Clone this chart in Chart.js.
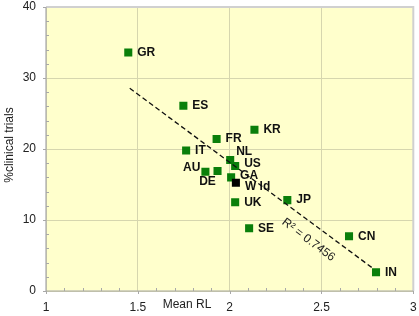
<!DOCTYPE html>
<html><head><meta charset="utf-8">
<script src="https://cdn.jsdelivr.net/npm/chart.js@4/dist/chart.umd.min.js"></script>
<style>html,body{margin:0;padding:0;background:#fff}#w{width:419px;height:316px}</style>
</head><body><div id="w"><canvas id="c"></canvas></div>
<script>
const countries = ['GR','ES','IT','FR','KR','NL','US','AU','DE','GA','Wld','UK','JP','SE','CN','IN'];
const meanRL    = [1.448,1.748,1.763,1.929,2.135,2.003,2.030,1.868,1.934,2.008,2.034,2.030,2.314,2.106,2.650,2.797];
const clinical  = [33.6,26.1,19.8,21.4,22.7,18.45,17.6,16.8,16.9,16.0,15.25,12.5,12.8,8.83,7.7,2.63];
const trendX = [1.456, 2.78];
const trendY = [28.55, 3.2];
const xTicks = [1,1.5,2,2.5,3];
const yTicks = [0,10,20,30,40];
const r2Text = 'R\u00B2 = 0.7456';

// label offsets (px) & alignment per country
const labelPos = {
  AU:[-5,-4,'right'], DE:[-10,11,'center'], NL:[6,-8,'left'], US:[9,-2,'left'], GA:[9,-2,'left'], Wld:[9,4,'left']
};

const bgPlugin = {
  id:'bg',
  beforeDraw(ch){
    const {ctx, chartArea:a} = ch;
    ctx.save(); ctx.fillStyle='#ffffcc'; ctx.fillRect(a.left,a.top,a.right-a.left,a.bottom-a.top); ctx.restore();
  },
  afterDatasetsDraw(ch){
    const {ctx, chartArea:a, scales:{x,y}} = ch;
    ctx.save();
    ctx.strokeStyle='#d0d0d0'; ctx.lineWidth=2;
    ctx.beginPath(); ctx.moveTo(a.left,a.top); ctx.lineTo(a.right,a.top); ctx.lineTo(a.right,a.bottom); ctx.stroke();
    ctx.strokeStyle='#a8a8a8'; ctx.lineWidth=1.2;
    ctx.beginPath(); ctx.moveTo(a.left,a.top); ctx.lineTo(a.left,a.bottom); ctx.lineTo(a.right,a.bottom); ctx.stroke();
    ctx.strokeStyle='#a8a8a8'; ctx.lineWidth=1;
    for(let v=0; v<=40; v+=2){ const py=Math.round(y.getPixelForValue(v))+0.5; ctx.beginPath(); if(v%10===0){ctx.moveTo(a.left-3,py);ctx.lineTo(a.left,py);} else {ctx.moveTo(a.left,py);ctx.lineTo(a.left+3,py);} ctx.stroke(); }
    for(let i=10; i<=30; i++){ const v=i/10; const px=Math.round(x.getPixelForValue(v))+0.5; ctx.beginPath(); if(i%5===0){ctx.moveTo(px,a.bottom);ctx.lineTo(px,a.bottom+3);} else {ctx.moveTo(px,a.bottom);ctx.lineTo(px,a.bottom-3);} ctx.stroke(); }
    ctx.fillStyle='#111'; ctx.font='bold 12px "Liberation Sans", Arial, sans-serif'; ctx.textBaseline='middle';
    const meta = ch.getDatasetMeta(1);
    countries.forEach((c,i)=>{
      const p = meta.data[i]; const o = labelPos[c] || [9,0,'left'];
      ctx.textAlign=o[2];
      ctx.fillText(c==='Wld'?'W ld':c, p.x+o[0], p.y+o[1]);
    });
    const cx = x.getPixelForValue(2.429), cy = y.getPixelForValue(7.2);
    ctx.translate(cx,cy); ctx.rotate(37*Math.PI/180);
    ctx.font='12px "Liberation Sans", Arial, sans-serif'; ctx.textAlign='center'; ctx.fillStyle='#222';
    ctx.fillText(r2Text,0,0);
    ctx.restore();
    ctx.save();
    ctx.font='12px "Liberation Sans", Arial, sans-serif'; ctx.fillStyle='#222'; ctx.textAlign='center'; ctx.textBaseline='middle';
    ctx.fillText('Mean RL', 187, 305);
    ctx.translate(10,(a.top+a.bottom)/2-4); ctx.rotate(-Math.PI/2); ctx.fillText('%clinical trials',0,0);
    ctx.restore();
  }
};

new Chart(document.getElementById('c'), {
  type:'scatter',
  data:{ datasets:[
    { type:'line', data: trendX.map((v,i)=>({x:v,y:trendY[i]})), borderColor:'#111', borderWidth:1.3, borderDash:[5,3], pointRadius:0, fill:false },
    { data: meanRL.map((v,i)=>({x:v,y:clinical[i]})), pointStyle:'rect', pointRadius:5.7, pointBorderWidth:0,
      pointBackgroundColor: countries.map(c=>c==='Wld'?'#000':'#0a7f0a'), pointBorderColor: countries.map(c=>c==='Wld'?'#000':'#0a7f0a') }
  ]},
  options:{
    responsive:true, maintainAspectRatio:false, animation:false,
    layout:{padding:{top:7,right:3,left:0,bottom:0}},
    plugins:{legend:{display:false}, tooltip:{enabled:false}},
    scales:{
      x:{ type:'linear', min:1, max:3,
        afterBuildTicks(s){ s.ticks = xTicks.map(v=>({value:v})); },
        afterFit(s){ s.height=25; s.paddingLeft=0; s.paddingRight=0; },
        grid:{ color:'#d6d6ae', lineWidth:1, drawTicks:false },
        border:{display:false},
        ticks:{ padding:9, color:'#222', font:{family:'"Liberation Sans", Arial, sans-serif', size:12}, maxRotation:0, callback:v=>String(v) } },
      y:{ min:0, max:40,
        afterBuildTicks(s){ s.ticks = yTicks.map(v=>({value:v})); },
        afterFit(s){ s.width=46; s.paddingTop=0; s.paddingBottom=0; },
        grid:{ color:'#d6d6ae', lineWidth:1, drawTicks:false },
        border:{display:false},
        ticks:{ padding:10, color:'#222', font:{family:'"Liberation Sans", Arial, sans-serif', size:12} } }
    }
  },
  plugins:[bgPlugin]
});
</script></body></html>
